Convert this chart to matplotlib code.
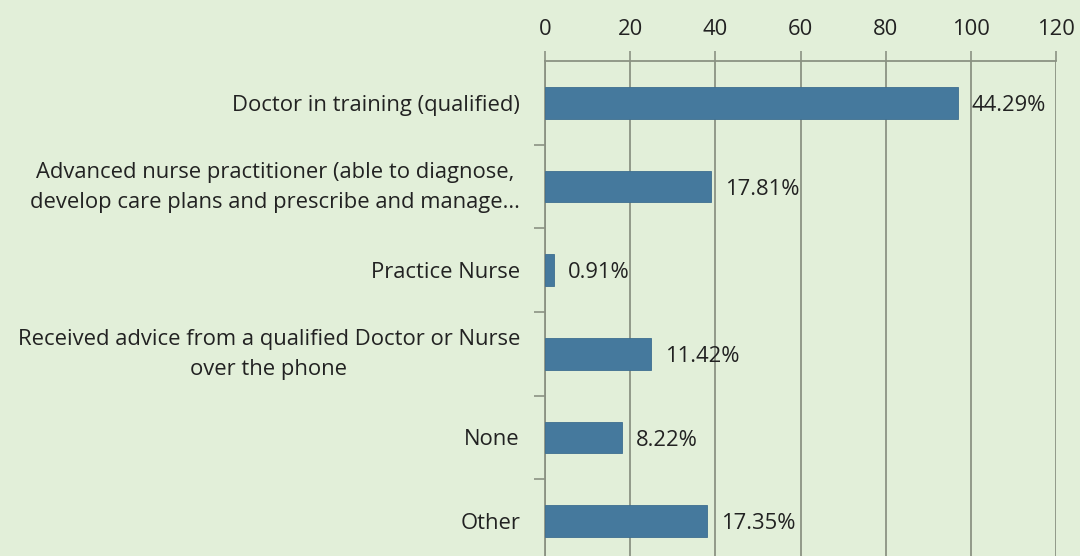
import matplotlib.pyplot as plt
from matplotlib.ticker import FixedLocator
from matplotlib.transforms import ScaledTranslation

# --- Data ---
categories = [
    "Doctor in training (qualified)",
    "Advanced nurse practitioner (able to diagnose,\ndevelop care plans and prescribe and manage...",
    "Practice Nurse",
    "Received advice from a qualified Doctor or Nurse\nover the phone",
    "None",
    "Other",
]
counts = [97, 39, 2, 25, 18, 38]
pct_labels = ["44.29%", "17.81%", "0.91%", "11.42%", "8.22%", "17.35%"]
x_ticks = [0, 20, 40, 60, 80, 100, 120]

BG = "#e2efd9"
BAR = "#45799d"
GRID = "#8b9283"
FS = 15.8

plt.rcParams['font.family'] = ['Open Sans', 'DejaVu Sans']

fig = plt.figure(figsize=(10.8, 5.56), dpi=100, facecolor=BG)
# axes top at y~61px, bottom just below the figure edge
ax = fig.add_axes([545/1080, 1 - 563/556, (1056-545)/1080, (563-61)/556])
ax.set_facecolor(BG)

ypos = list(range(len(categories)))
ax.barh(ypos, counts, height=0.38, color=BAR, edgecolor="#3d6e90", lw=0.6, zorder=3)

for y, v, lab in zip(ypos, counts, pct_labels):
    ax.annotate(lab, (v, y), xytext=(10, -2), textcoords="offset points",
                va="center", ha="left", fontsize=FS, color="#222222", zorder=4)

ax.set_xlim(0, 120)
ax.set_ylim(len(categories) - 0.5, -0.5)

ax.xaxis.tick_top()
ax.set_xticks(x_ticks)
ax.tick_params(axis='x', direction='out', length=7, width=1.2, color=GRID,
               labelsize=FS, labelcolor="#222222", pad=8)
ax.grid(axis='x', color=GRID, lw=1.3, zorder=1)

ax.set_yticks(ypos)
ax.set_yticklabels(categories, fontsize=FS, color="#222222", multialignment='center',
                   linespacing=1.55)
ax.tick_params(axis='y', which='major', length=0, pad=18)
ax.yaxis.set_minor_locator(FixedLocator([i + 0.5 for i in range(len(categories))]))
ax.tick_params(axis='y', which='minor', direction='out', length=8, width=1.2, color=GRID)

# two-line labels sit a little high in the original
for t in ax.get_yticklabels():
    if "\n" in t.get_text():
        t.set_transform(t.get_transform() + ScaledTranslation(0, 6/100, fig.dpi_scale_trans))

for side in ['right', 'bottom']:
    ax.spines[side].set_visible(False)
for side in ['top', 'left']:
    ax.spines[side].set_color(GRID)
    ax.spines[side].set_linewidth(1.3)

fig.savefig("out.png", dpi=100, facecolor=BG)
